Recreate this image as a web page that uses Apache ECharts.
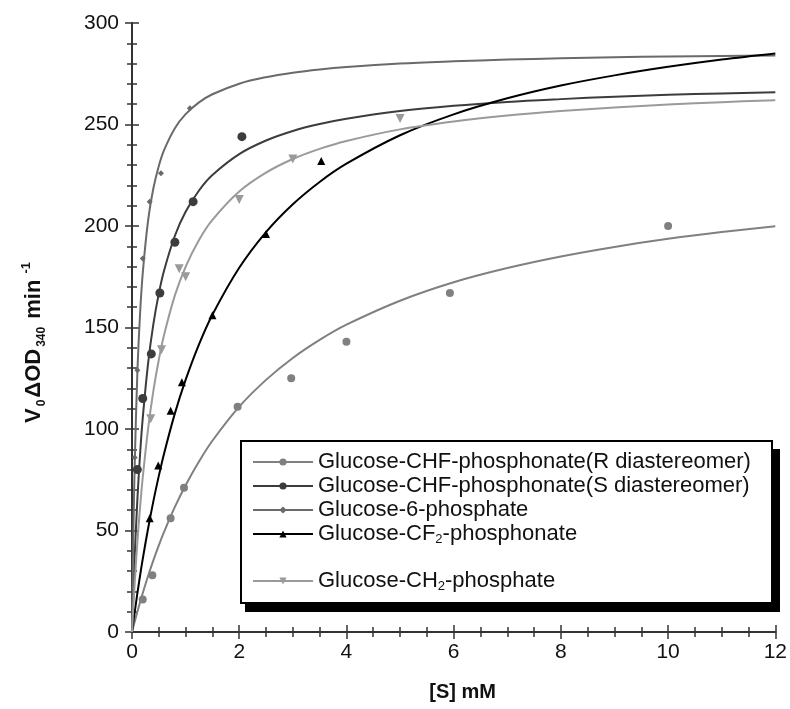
<!DOCTYPE html>
<html>
<head>
<meta charset="utf-8">
<script src="https://cdn.jsdelivr.net/npm/echarts@6/dist/echarts.min.js"></script>
<style>
html,body{margin:0;padding:0;background:#fff;}
#chart{width:790px;height:709px;}
</style>
</head>
<body>
<div id="chart"></div>
<script>
// ---- data ----
var seriesNames = [
  'Glucose-CHF-phosphonate(R diastereomer)',
  'Glucose-CHF-phosphonate(S diastereomer)',
  'Glucose-6-phosphate',
  'Glucose-CF2-phosphonate',
  'Glucose-CH2-phosphate'
];
var xTicks = [0, 2, 4, 6, 8, 10, 12];
var yTicks = [0, 50, 100, 150, 200, 250, 300];

// x positions of the fitted-curve samples (mM)
var curveX = [0, 0.025, 0.05, 0.1, 0.15, 0.2, 0.3, 0.4, 0.5, 0.6, 0.8, 1, 1.25, 1.5, 2, 2.5, 3, 3.5, 4, 5, 6, 7, 8, 9, 10, 11, 12];

// fitted curves
var curveR   = [0, 2.6, 5.1, 10.0, 14.6, 19.1, 27.6, 35.4, 42.7, 49.4, 61.6, 72.3, 84.0, 94.2, 111.0, 124.2, 135.0, 143.9, 151.4, 163.2, 172.3, 179.3, 185.0, 189.7, 193.7, 197.0, 199.9];
var curveS   = [0, 19.8, 37.0, 65.2, 87.3, 105.2, 132.3, 151.9, 166.7, 178.2, 195.2, 207.0, 217.5, 225.1, 235.4, 242.1, 246.8, 250.2, 252.8, 256.6, 259.2, 261.1, 262.5, 263.7, 264.6, 265.3, 265.9];
var curveG6P = [0, 47.8, 82.0, 127.6, 156.5, 176.6, 202.6, 218.7, 229.6, 237.5, 248.2, 255.1, 260.9, 264.9, 270.1, 273.3, 275.5, 277.1, 278.3, 280.0, 281.1, 282.0, 282.6, 283.1, 283.5, 283.8, 284.0];
var curveCF2 = [0, 5.0, 9.8, 19.0, 27.7, 35.9, 51.0, 64.6, 76.9, 88.1, 107.7, 124.2, 141.7, 156.3, 179.4, 197.0, 210.7, 221.7, 230.7, 244.7, 255.0, 262.9, 269.2, 274.2, 278.4, 282.0, 285.0];
var curveCH2 = [0, 12.6, 24.0, 44.2, 61.3, 76.0, 100.1, 119.0, 134.1, 146.5, 165.8, 179.9, 193.1, 203.0, 217.0, 226.3, 233.0, 238.0, 241.9, 247.6, 251.5, 254.4, 256.6, 258.4, 259.8, 261.0, 262.0];

// measured points [S] (mM), V
var ptsRX   = [0.2, 0.38, 0.72, 0.97, 1.97, 2.97, 4.0, 5.93, 10.0];
var ptsRY   = [16, 28, 56, 71, 111, 125, 143, 167, 200];
var ptsSX   = [0.1, 0.2, 0.36, 0.52, 0.8, 1.14, 2.05];
var ptsSY   = [80, 115, 137, 167, 192, 212, 244];
var ptsG6PX = [0.05, 0.1, 0.2, 0.33, 0.54, 1.08];
var ptsG6PY = [86, 129, 184, 212, 226, 258];
var ptsCF2X = [0.33, 0.49, 0.72, 0.93, 1.5, 2.5, 3.53];
var ptsCF2Y = [56, 82, 109, 123, 156, 196, 232];
var ptsCH2X = [0.35, 0.55, 0.88, 1.0, 2.0, 3.0, 5.0];
var ptsCH2Y = [105, 139, 179, 175, 213, 233, 253];

// ---- build ----
function zip(xs, ys) { return xs.map(function (x, i) { return [x, ys[i]]; }); }
var curves = [curveR, curveS, curveG6P, curveCF2, curveCH2];
var ptsX = [ptsRX, ptsSX, ptsG6PX, ptsCF2X, ptsCH2X];
var ptsY = [ptsRY, ptsSY, ptsG6PY, ptsCF2Y, ptsCH2Y];
var colors = ['#808080', '#3c3c3c', '#6a6a6a', '#000000', '#9a9a9a'];
var symbols = ['circle', 'circle', 'diamond', 'triangle', 'triangle'];
var symbolRot = [0, 0, 0, 0, 180];
var symbolSizes = [8, 9, 6, 8, 9];

var series = [];
seriesNames.forEach(function (name, i) {
  series.push({
    name: name, type: 'line', data: zip(curveX, curves[i]),
    smooth: 0.35, showSymbol: false, symbol: symbols[i], symbolSize: symbolSizes[i],
    symbolRotate: symbolRot[i],
    lineStyle: { color: colors[i], width: 2 }, itemStyle: { color: colors[i] },
    z: 3, silent: true
  });
  series.push({
    name: name, type: 'scatter', data: zip(ptsX[i], ptsY[i]),
    symbol: symbols[i], symbolSize: symbolSizes[i], symbolRotate: symbolRot[i],
    itemStyle: { color: colors[i], opacity: 1 }, z: 4, silent: true
  });
});

var FONT = '"Liberation Sans", Arial, sans-serif';
var axisLine = { show: true, lineStyle: { color: '#333', width: 2 } };
var tickStyle = { color: '#333', width: 1.5 };
var legendText = {
  fontFamily: FONT, fontSize: 22, color: '#111', lineHeight: 24,
  rich: { s: { fontFamily: FONT, fontSize: 13, color: '#111', verticalAlign: 'bottom', padding: [13, 0, 0, 0] } }
};
function legendFmt(n) { return n.replace('CF2', 'CF{s|2}').replace('CH2', 'CH{s|2}'); }

var option = {
  animation: false,
  backgroundColor: '#fff',
  grid: { left: 132, right: 12, top: 23, bottom: 77, containLabel: false },
  xAxis: [{
    type: 'value', min: 0, max: 12, interval: 2, position: 'bottom',
    axisLine: axisLine,
    axisTick: { show: true, inside: true, length: 7, lineStyle: tickStyle },
    minorTick: { show: true, splitNumber: 4, length: 5, lineStyle: tickStyle },
    splitLine: { show: false },
    axisLabel: { fontFamily: FONT, fontSize: 21, color: '#111', margin: 10 },
    name: '[S] mM', nameLocation: 'middle', nameGap: 50,
    nameTextStyle: { fontFamily: FONT, fontSize: 20, fontWeight: 'bold', color: '#111', padding: [0, 0, 0, 18] }
  }, {
    type: 'value', min: 0, max: 12, interval: 2, position: 'top',
    axisLine: axisLine,
    axisTick: { show: true, inside: true, length: 7, lineStyle: tickStyle },
    minorTick: { show: true, splitNumber: 4, length: 5, lineStyle: tickStyle },
    splitLine: { show: false }, axisLabel: { show: false }
  }],
  yAxis: [{
    type: 'value', min: 0, max: 300, interval: 50, position: 'left',
    axisLine: axisLine,
    axisTick: { show: true, inside: true, length: 7, lineStyle: tickStyle },
    minorTick: { show: true, splitNumber: 5, length: 5, lineStyle: tickStyle },
    splitLine: { show: false },
    axisLabel: { fontFamily: FONT, fontSize: 21, color: '#111', margin: 13 },
    name: '{b|V}{s|0}{b|ΔOD}{s|340}{b| min}{p|-1}',
    nameLocation: 'middle', nameGap: 84, nameRotate: 90,
    nameTextStyle: {
      fontFamily: FONT, fontSize: 22, fontWeight: 'bold', color: '#111',
      padding: [0, 30, 0, 0],
      rich: {
        b: { fontFamily: FONT, fontSize: 22, fontWeight: 'bold', color: '#111' },
        s: { fontFamily: FONT, fontSize: 12, fontWeight: 'bold', color: '#111', verticalAlign: 'bottom', padding: [16, 2, 0, 2] },
        p: { fontFamily: FONT, fontSize: 13, fontWeight: 'bold', color: '#111', verticalAlign: 'top', padding: [0, 0, 12, 6] }
      }
    }
  }, {
    type: 'value', min: 0, max: 300, interval: 50, position: 'right',
    axisLine: axisLine,
    axisTick: { show: true, inside: true, length: 7, lineStyle: tickStyle },
    minorTick: { show: true, splitNumber: 5, length: 5, lineStyle: tickStyle },
    splitLine: { show: false }, axisLabel: { show: false }
  }],
  legend: [{
    data: seriesNames.slice(0, 4), orient: 'vertical', left: 252, top: 450,
    itemWidth: 60, itemHeight: 9, itemGap: 0, padding: 0, selectedMode: false,
    formatter: legendFmt, textStyle: legendText, z: 20
  }, {
    data: seriesNames.slice(4), orient: 'vertical', left: 252, top: 569,
    itemWidth: 60, itemHeight: 9, itemGap: 0, padding: 0, selectedMode: false,
    formatter: legendFmt, textStyle: legendText, z: 20
  }],
  graphic: [
    { type: 'rect', z: 10, shape: { x: 245, y: 449, width: 535, height: 163 }, style: { fill: '#000' } },
    { type: 'rect', z: 11, shape: { x: 241, y: 441, width: 531, height: 162 }, style: { fill: '#fff', stroke: '#000', lineWidth: 2 } }
  ],
  series: series
};

var chart = echarts.init(document.getElementById('chart'), null, { renderer: 'canvas' });
chart.setOption(option);
</script>
</body>
</html>
